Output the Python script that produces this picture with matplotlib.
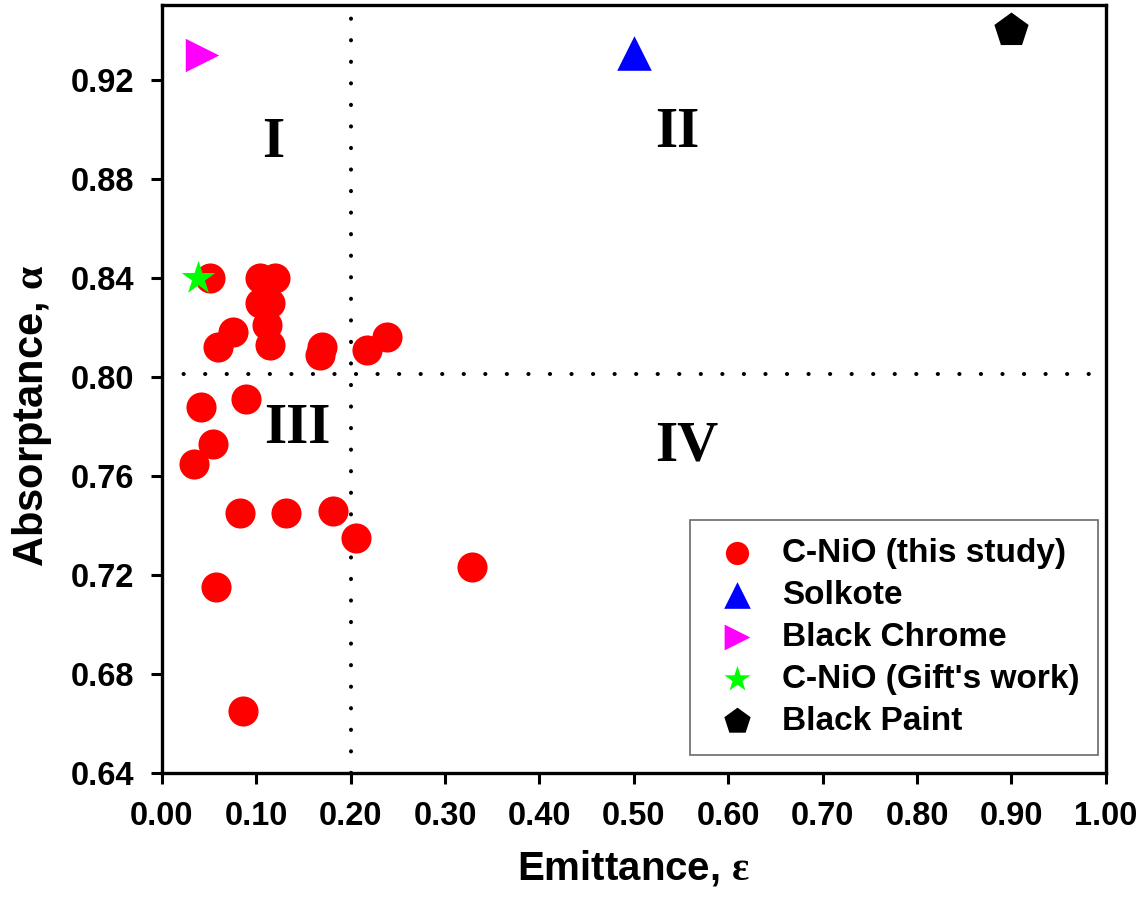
import numpy as np
import matplotlib
matplotlib.use("Agg")
import matplotlib.pyplot as plt

plt.rcParams['font.family'] = ['Liberation Sans', 'DejaVu Sans']
plt.rcParams['font.weight'] = 'bold'
plt.rcParams['mathtext.fontset'] = 'custom'
plt.rcParams['mathtext.rm'] = 'Liberation Serif'
plt.rcParams['mathtext.it'] = 'Liberation Serif'

# C-NiO samples from this study (emittance, absorptance)
eps_cnio = [0.051, 0.104, 0.120, 0.104, 0.115, 0.111, 0.115, 0.075, 0.059,
            0.170, 0.168, 0.217, 0.239, 0.041, 0.089, 0.054, 0.034, 0.083,
            0.131, 0.181, 0.206, 0.329, 0.057, 0.086]
alpha_cnio = [0.840, 0.840, 0.840, 0.830, 0.830, 0.821, 0.813, 0.818, 0.812,
              0.812, 0.809, 0.811, 0.816, 0.788, 0.791, 0.773, 0.765, 0.745,
              0.745, 0.746, 0.735, 0.723, 0.715, 0.665]

# reference coatings
eps_solkote, alpha_solkote = [0.50], [0.931]
eps_chrome, alpha_chrome = [0.043], [0.930]
eps_gift, alpha_gift = [0.038], [0.840]
eps_paint, alpha_paint = [0.90], [0.940]

x_split = 0.20
y_split = 0.801

regions = ['I', 'II', 'III', 'IV']
region_x = [0.118, 0.546, 0.144, 0.556]
region_y = [0.8945, 0.8986, 0.779, 0.772]

fig = plt.figure(figsize=(11.4, 9.05), dpi=100)
ax = fig.add_axes([0.142, 0.146, 0.828, 0.8485])

dots = (0, (0.05, 5.3))
ax.axvline(x_split, color='black', lw=2.9, ls=dots, dash_capstyle='round', zorder=1)
ax.axhline(y_split, color='black', lw=2.9, ls=dots, dash_capstyle='round', zorder=1)

ax.scatter(eps_cnio, alpha_cnio, s=470, c='red', marker='o', lw=0,
           label='C-NiO (this study)', zorder=3)
ax.scatter(eps_solkote, alpha_solkote, s=620, c='blue', marker='^', lw=0,
           label='Solkote', zorder=3)
ax.scatter(eps_chrome, alpha_chrome, s=580, c='magenta', marker='>', lw=0,
           label='Black Chrome', zorder=3)
ax.scatter(eps_gift, alpha_gift, s=650, c='lime', marker='*', lw=0,
           label="C-NiO (Gift's work)", zorder=4)
ax.scatter(eps_paint, alpha_paint, s=670, c='black', marker='p', lw=0,
           label='Black Paint', zorder=3)

for name, xr, yr in zip(regions, region_x, region_y):
    ax.text(xr, yr, name, family='Liberation Serif', fontsize=41,
            fontweight='bold', ha='center', va='center')

ax.set_xlim(0, 1.0)
ax.set_ylim(0.64, 0.9503)
ax.set_xticks(np.arange(0, 1.01, 0.1))
ax.set_yticks(np.arange(0.64, 0.921, 0.04))
ax.xaxis.set_major_formatter(matplotlib.ticker.FormatStrFormatter('%.2f'))
ax.yaxis.set_major_formatter(matplotlib.ticker.FormatStrFormatter('%.2f'))
ax.tick_params(direction='out', length=8, width=2.2, labelsize=23.5, pad=12)
for sp in ax.spines.values():
    sp.set_linewidth(2.4)

ax.set_xlabel('Emittance, $ε$', fontsize=29, fontweight='bold', labelpad=12)
ax.set_ylabel('Absorptance, $α$', fontsize=30, fontweight='bold')
ax.yaxis.set_label_coords(-0.1145, 0.465)

leg = ax.legend(loc='lower right', fontsize=24, markerscale=0.77, frameon=True,
                fancybox=False, edgecolor='#444444', handletextpad=0.5,
                labelspacing=0.33, borderpad=0.55, handlelength=1.7,
                borderaxespad=0, bbox_to_anchor=(0.9915, 0.023))
leg.get_frame().set_linewidth(1.2)

fig.savefig('out.png', dpi=100)
